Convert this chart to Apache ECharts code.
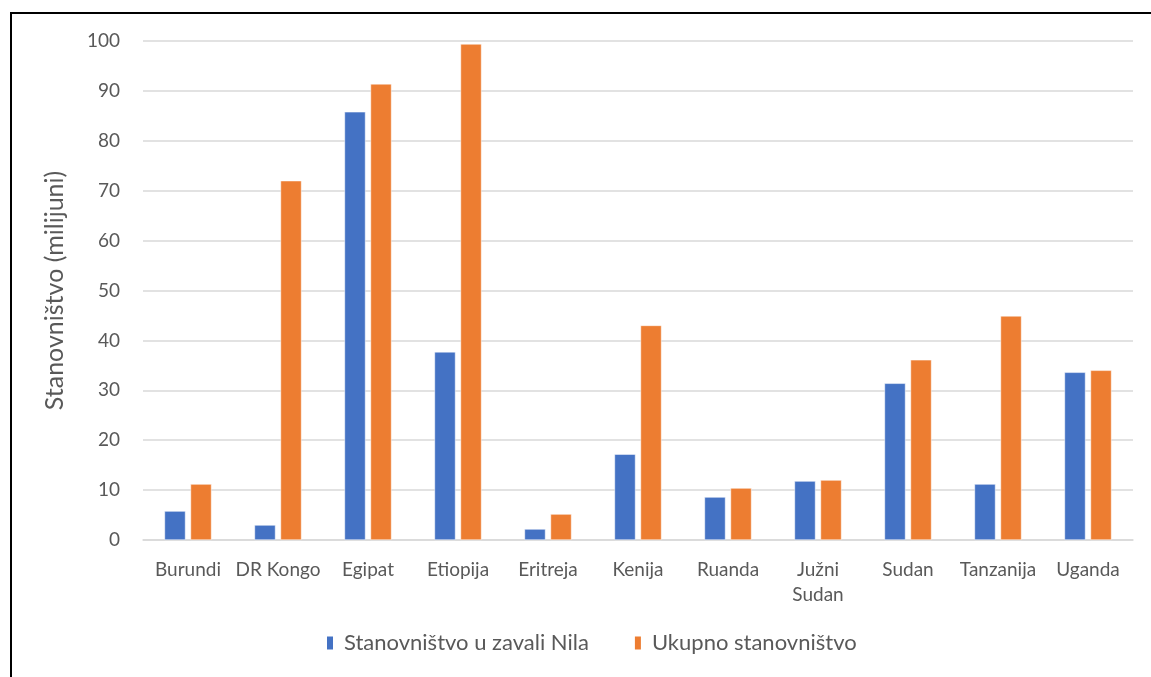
<!DOCTYPE html>
<html><head><meta charset="utf-8">
<script src="https://cdn.jsdelivr.net/npm/echarts@6/dist/echarts.min.js"></script>
<style>html,body{margin:0;padding:0;background:#fff}#c{width:1151px;height:677px}</style>
</head><body><div id="c"></div>
<script>
const categories = ['Burundi','DR Kongo','Egipat','Etiopija','Eritreja','Kenija','Ruanda','Južni\nSudan','Sudan','Tanzanija','Uganda'];
const seriesNames = ['Stanovništvo u zavali Nila','Ukupno stanovništvo'];
const nileBasin = [5.8, 3.0, 85.8, 37.7, 2.2, 17.2, 8.6, 11.8, 31.4, 11.2, 33.6];
const total = [11.2, 72.0, 91.4, 99.4, 5.2, 43.0, 10.4, 12.0, 36.1, 44.9, 34.0];
const yTicks = {min: 0, max: 100, interval: 10};
const font = 'Lato, "Open Sans", sans-serif';
const chart = echarts.init(document.getElementById('c'));
chart.setOption({
  animation: false,
  graphic: [{type:'rect', shape:{x:11, y:13, width:1200, height:700}, style:{fill:'none', stroke:'#000', lineWidth:2}, z:-1}],
  grid: {left:143, right:18, top:41, bottom:137},
  legend: {bottom:18, left:320, itemWidth:8, itemHeight:15, itemGap:44, icon:'rect',
    textStyle:{fontFamily:font, fontSize:22, color:'#595959', padding:[0,0,0,5]}, data: seriesNames},
  xAxis: {type:'category', data:categories,
    axisLine:{lineStyle:{color:'#d9d9d9', width:1.5}}, axisTick:{show:false},
    axisLabel:{fontFamily:font, fontSize:19, color:'#595959', margin:17, interval:0, lineHeight:25}},
  yAxis: {type:'value', min:yTicks.min, max:yTicks.max, interval:yTicks.interval,
    name:'Stanovništvo (milijuni)', nameLocation:'middle', nameGap:76, nameRotate:90,
    nameTextStyle:{fontFamily:font, fontSize:25, color:'#595959'},
    axisLabel:{fontFamily:font, fontSize:19, color:'#595959', margin:23},
    splitLine:{lineStyle:{color:'#d9d9d9', width:1.5}}, axisLine:{show:false}, axisTick:{show:false}},
  series: [
    {name:seriesNames[0], type:'bar', data:nileBasin, barWidth:21, barGap:'24%',
      itemStyle:{color:'#4472C4', borderColor:'#fff', borderWidth:0.5}},
    {name:seriesNames[1], type:'bar', data:total, barWidth:21,
      itemStyle:{color:'#ED7D31', borderColor:'#fff', borderWidth:0.5}}
  ]
});
</script></body></html>
